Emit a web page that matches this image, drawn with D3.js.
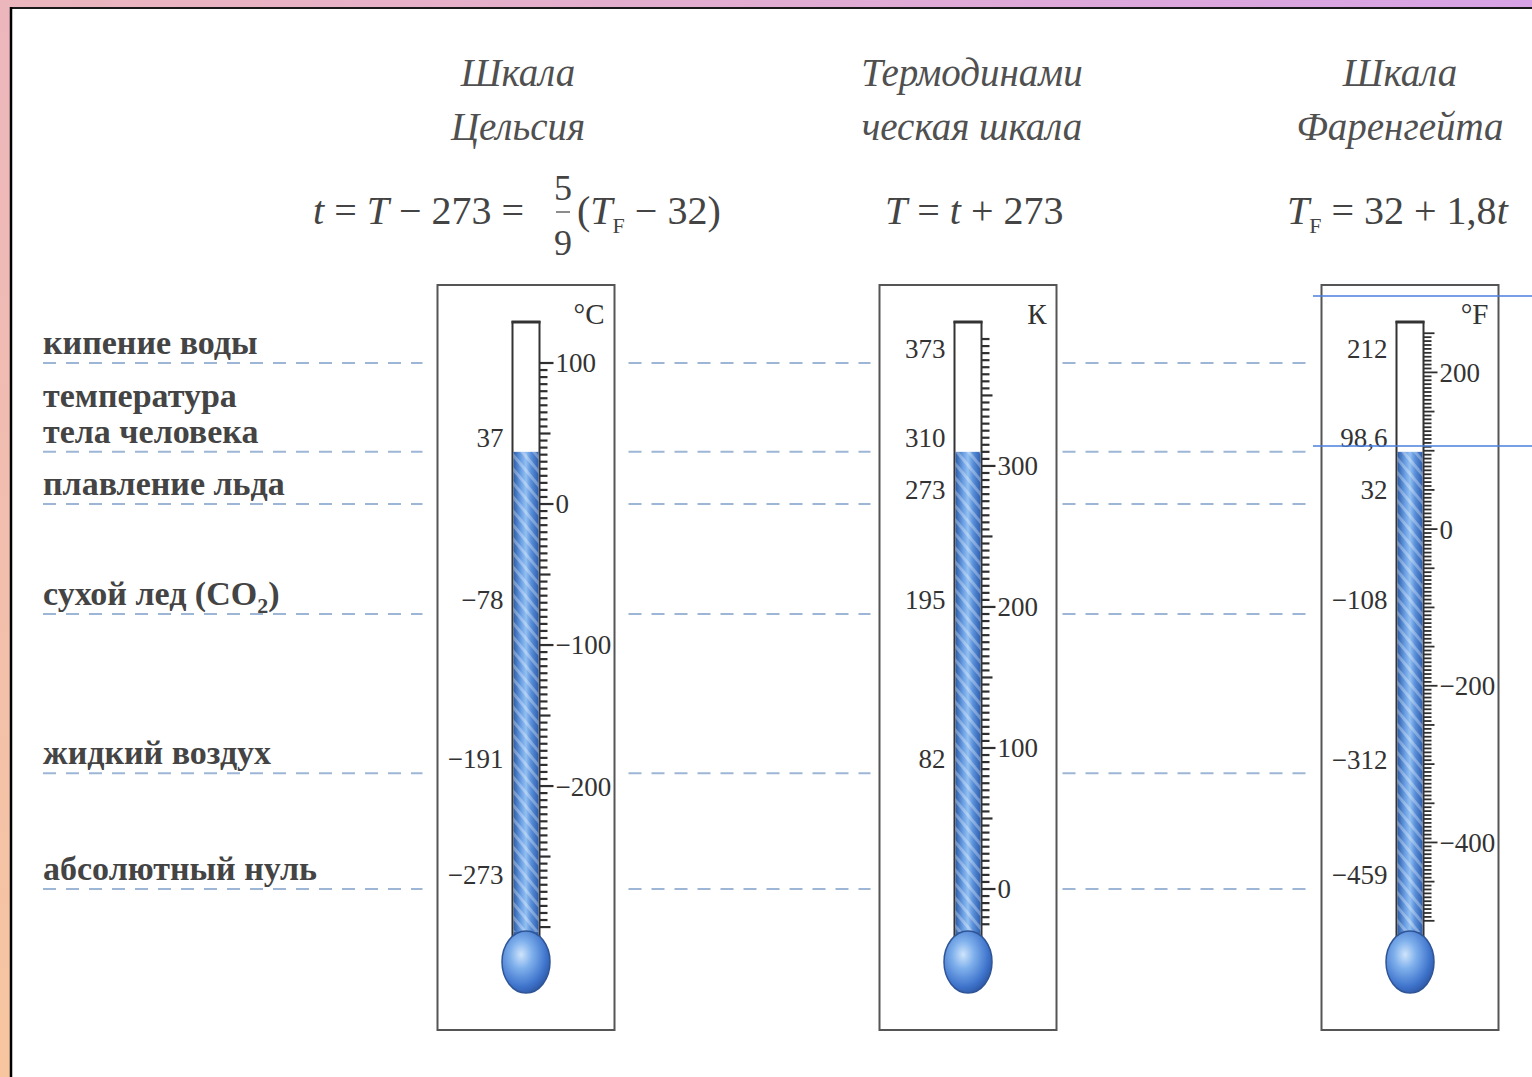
<!DOCTYPE html>
<html>
<head>
<meta charset="utf-8">
<script src="https://cdn.jsdelivr.net/npm/d3@7"></script>
<style>
  html, body { margin: 0; padding: 0; background: #fff; }
  svg { display: block; }
</style>
</head>
<body>
<div id="chart"></div>
<script>
// reference points (events) and their temperature in °C
const events = [["кипение воды"], ["температура", "тела человека"], ["плавление льда"],
  ["сухой лед (CO", "2", ")"], ["жидкий воздух"], ["абсолютный нуль"]];
const eventCelsius = [100, 37, 0, -78, -191, -273];
const bodyTemp = 37;

const scaleNames = ["celsius", "kelvin", "fahrenheit"];
const titleLines = [["Шкала", "Цельсия"], ["Термодинами", "ческая шкала"], ["Шкала", "Фаренгейта"]];
const unitLabels = ["°C", "К", "°F"];

const celsiusLeft = [37, -78, -191, -273];
const celsiusRight = [100, 0, -100, -200];
const kelvinLeft = [373, 310, 273, 195, 82];
const kelvinRight = [300, 200, 100, 0];
const fahrenheitLeft = [212, 98.6, 32, -108, -312, -459];
const fahrenheitRight = [200, 0, -200, -400];

const celsiusTickRange = [-300, 100];
const kelvinTickRange = [-25, 390];
const fahrenheitTickRange = [-500, 250];

const W = 1532, H = 1077;
const svg = d3.select("#chart").append("svg").attr("width", W).attr("height", H);
const defs = svg.append("defs");

// фон рамки
const gTop = defs.append("linearGradient").attr("id", "gTop");
gTop.append("stop").attr("offset", "0%").attr("stop-color", "#ecb6bd");
gTop.append("stop").attr("offset", "100%").attr("stop-color", "#d7a3e6");
const gLeft = defs.append("linearGradient").attr("id", "gLeft")
  .attr("x1", 0).attr("y1", 0).attr("x2", 0).attr("y2", 1);
gLeft.append("stop").attr("offset", "0%").attr("stop-color", "#ecb6bd");
gLeft.append("stop").attr("offset", "100%").attr("stop-color", "#f7c69f");

const liquid = defs.append("linearGradient").attr("id", "liquid");
[["0%", "#2e5ea9"], ["30%", "#6a9fe4"], ["50%", "#94c0f0"], ["70%", "#5a90da"], ["100%", "#2f5fae"]]
  .forEach(([o, c]) => liquid.append("stop").attr("offset", o).attr("stop-color", c));
const bulbGrad = defs.append("radialGradient").attr("id", "bulb")
  .attr("cx", "40%").attr("cy", "38%").attr("r", "65%");
[["0%", "#cfe4fb"], ["35%", "#7fb0ec"], ["80%", "#3f74cc"], ["100%", "#2f5aa8"]]
  .forEach(([o, c]) => bulbGrad.append("stop").attr("offset", o).attr("stop-color", c));
const stripes = defs.append("pattern").attr("id", "stripes")
  .attr("patternUnits", "userSpaceOnUse").attr("width", 9).attr("height", 9)
  .attr("patternTransform", "rotate(-40)");
stripes.append("rect").attr("width", 3).attr("height", 9).attr("fill", "#ffffff").attr("opacity", 0.3);

svg.append("rect").attr("width", W).attr("height", 8).attr("fill", "url(#gTop)");
svg.append("rect").attr("width", 10).attr("height", H).attr("fill", "url(#gLeft)");
svg.append("rect").attr("x", 10).attr("y", 7).attr("width", W).attr("height", H)
  .attr("fill", "#fff");
svg.append("line").attr("x1", 10).attr("x2", W).attr("y1", 8).attr("y2", 8)
  .attr("stroke", "#1a1a1a").attr("stroke-width", 2);
svg.append("line").attr("x1", 11).attr("x2", 11).attr("y1", 7).attr("y2", H)
  .attr("stroke", "#000").attr("stroke-width", 2.5);

// scales
const yC = d3.scaleLinear().domain([-273, 100]).range([889, 363]);
const yK = d3.scaleLinear().domain([0, 373]).range([yC(-273), yC(100)]);
const yF = d3.scaleLinear().domain([-459.4, 212]).range([yC(-273), yC(100)]);
const x = d3.scalePoint().domain(scaleNames).range([526, 1410]);

const fmt = d3.formatLocale({ decimal: ",", thousands: " ", grouping: [3], currency: ["", ""], minus: "\u2212" }).format("~g");

const boxW = 177, boxTop = 285, boxBottom = 1030;
const tubeW = 27, tubeTop = 322;

const serif = "'Liberation Serif', 'DejaVu Serif', serif";

// dashed lines
const gaps = [[43, x("celsius") - boxW / 2 - 15],
  [x("celsius") + boxW / 2 + 14, x("kelvin") - boxW / 2 - 9],
  [x("kelvin") + boxW / 2 + 6, x("fahrenheit") - boxW / 2 - 16]];
const dash = svg.append("g");
eventCelsius.forEach((t) => {
  dash.selectAll(null).data(gaps).join("line")
    .attr("x1", (d) => d[0]).attr("x2", (d) => d[1])
    .attr("y1", yC(t)).attr("y2", yC(t))
    .attr("stroke", "#9db6d6").attr("stroke-width", 2)
    .attr("stroke-dasharray", "13 10");
});

// event names
const ev = svg.append("g").attr("font-family", serif).attr("font-weight", "bold")
  .attr("font-size", 34).attr("fill", "#444");
events.forEach((lines, i) => {
  const base = yC(eventCelsius[i]) - 9;
  if (lines.length === 2) {
    ev.append("text").attr("x", 43).attr("y", base - 36).text(lines[0]);
    ev.append("text").attr("x", 43).attr("y", base).text(lines[1]);
  } else if (lines.length === 3) {
    const t = ev.append("text").attr("x", 43).attr("y", base);
    t.append("tspan").text(lines[0]);
    t.append("tspan").attr("font-size", 22).attr("dy", 8).text(lines[1]);
    t.append("tspan").attr("dy", -8).text(lines[2]);
  } else {
    ev.append("text").attr("x", 43).attr("y", base).text(lines[0]);
  }
});

// titles
const tt = svg.append("g").attr("font-family", serif).attr("font-style", "italic")
  .attr("font-size", 39).attr("fill", "#505050").attr("text-anchor", "middle");
scaleNames.forEach((s, i) => {
  const cx = s === "kelvin" ? x(s) + 4 : s === "fahrenheit" ? x(s) - 10 : x(s) - 8;
  tt.append("text").attr("x", cx).attr("y", 86).text(titleLines[i][0]);
  tt.append("text").attr("x", cx).attr("y", 140).text(titleLines[i][1]);
});

// formulas
const fm = svg.append("g").attr("font-family", serif).attr("font-size", 40).attr("fill", "#444");
const f1 = fm.append("text").attr("x", 313).attr("y", 224);
f1.append("tspan").attr("font-style", "italic").text("t");
f1.append("tspan").text(" = ");
f1.append("tspan").attr("font-style", "italic").text("T");
f1.append("tspan").text(" \u2212 273 = ");
fm.append("text").attr("x", 563).attr("y", 200).attr("text-anchor", "middle").attr("font-size", 36).text("5");
fm.append("line").attr("x1", 556).attr("x2", 570).attr("y1", 212).attr("y2", 212)
  .attr("stroke", "#666").attr("stroke-width", 1.5);
fm.append("text").attr("x", 563).attr("y", 255).attr("text-anchor", "middle").attr("font-size", 36).text("9");
const f1b = fm.append("text").attr("x", 577).attr("y", 224);
f1b.append("tspan").text("(");
f1b.append("tspan").attr("font-style", "italic").text("T");
f1b.append("tspan").attr("font-size", 22).attr("dy", 9).text("F");
f1b.append("tspan").attr("dy", -9).text(" \u2212 32)");

const f2 = fm.append("text").attr("x", 885).attr("y", 224);
f2.append("tspan").attr("font-style", "italic").text("T");
f2.append("tspan").text(" = ");
f2.append("tspan").attr("font-style", "italic").text("t");
f2.append("tspan").text(" + 273");

const f3 = fm.append("text").attr("x", 1287).attr("y", 224);
f3.append("tspan").attr("font-style", "italic").text("T");
f3.append("tspan").attr("font-size", 22).attr("dy", 9).text("F");
f3.append("tspan").attr("dy", -9).text(" = 32 + 1,8");
f3.append("tspan").attr("font-style", "italic").text("t");

// thermometers
const thermo = [
  { name: "celsius", y: yC, left: celsiusLeft, right: celsiusRight, range: celsiusTickRange, fill: bodyTemp },
  { name: "kelvin", y: yK, left: kelvinLeft, right: kelvinRight, range: kelvinTickRange, fill: bodyTemp + 273 },
  { name: "fahrenheit", y: yF, left: fahrenheitLeft, right: fahrenheitRight, range: fahrenheitTickRange, fill: 32 + 1.8 * bodyTemp },
];

thermo.forEach((t, i) => {
  const cx = x(t.name);
  const g = svg.append("g");
  g.append("rect").attr("x", cx - boxW / 2).attr("y", boxTop)
    .attr("width", boxW).attr("height", boxBottom - boxTop)
    .attr("fill", "none").attr("stroke", "#555").attr("stroke-width", 2);

  const tl = cx - tubeW / 2, tr = cx + tubeW / 2;
  const bulbY = 962;

  // ticks
  const tickVals = d3.range(t.range[0], t.range[1] + 0.1, 5);
  g.selectAll(".tick").data(tickVals).join("line")
    .attr("x1", tr).attr("x2", (d) => tr + (t.right.includes(d) ? 14 : d % 50 === 0 ? 11 : 8))
    .attr("y1", (d) => t.y(d)).attr("y2", (d) => t.y(d))
    .attr("stroke", "#2f2f2f").attr("stroke-width", t.name === "fahrenheit" ? 1.8 : 2.2);

  // tube
  g.append("rect").attr("x", tl).attr("y", tubeTop).attr("width", tubeW)
    .attr("height", bulbY - 20 - tubeTop).attr("fill", "#fff")
    .attr("stroke", "#333").attr("stroke-width", 2);
  g.append("line").attr("x1", tl - 1).attr("x2", tr + 1).attr("y1", tubeTop).attr("y2", tubeTop)
    .attr("stroke", "#333").attr("stroke-width", 3);
  g.append("rect").attr("x", tl + 1).attr("y", t.y(t.fill)).attr("width", tubeW - 2)
    .attr("height", bulbY - t.y(t.fill)).attr("fill", "url(#liquid)");
  g.append("rect").attr("x", tl + 1).attr("y", t.y(t.fill)).attr("width", tubeW - 2)
    .attr("height", bulbY - 30 - t.y(t.fill)).attr("fill", "url(#stripes)");
  g.append("ellipse").attr("cx", cx).attr("cy", bulbY).attr("rx", 24).attr("ry", 31)
    .attr("fill", "url(#bulb)").attr("stroke", "#2f5596").attr("stroke-width", 1.5);

  // labels
  g.selectAll(".lab-l").data(t.left).join("text")
    .attr("x", tl - 9).attr("y", (d) => t.y(d) - 5)
    .attr("text-anchor", "end").attr("font-family", serif).attr("font-size", 27)
    .attr("fill", "#333").text((d) => fmt(d));
  g.selectAll(".lab-r").data(t.right).join("text")
    .attr("x", tr + 16).attr("y", (d) => t.y(d)).attr("dy", "0.35em")
    .attr("text-anchor", "start").attr("font-family", serif).attr("font-size", 27)
    .attr("fill", "#333").text((d) => fmt(d));
  g.append("text").attr("x", cx + boxW / 2 - 10).attr("y", 324)
    .attr("text-anchor", "end").attr("font-family", serif).attr("font-size", 29)
    .attr("fill", "#333").text(unitLabels[i]);
});

// blue marker lines on the Fahrenheit scale
svg.selectAll(".mark").data([296, 446]).join("line")
  .attr("x1", x("fahrenheit") - 97).attr("x2", W)
  .attr("y1", (d) => d).attr("y2", (d) => d)
  .attr("stroke", "#4a7fe0").attr("stroke-width", 1.5);
</script>
</body>
</html>
